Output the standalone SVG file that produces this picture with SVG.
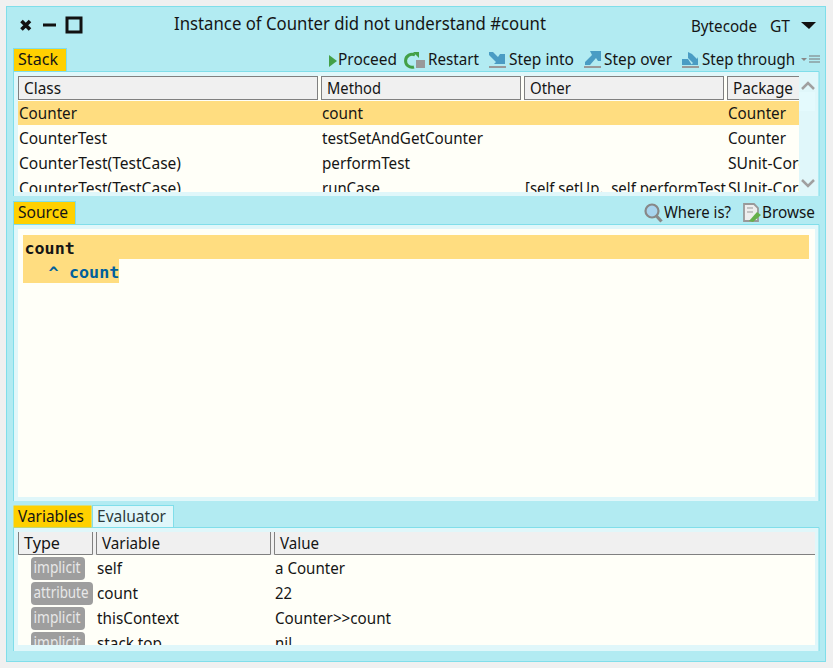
<svg xmlns="http://www.w3.org/2000/svg" width="833" height="668" viewBox="0 0 833 668">
<style>
text{font-family:"Noto Sans","Open Sans","Liberation Sans",sans-serif;font-size:16.500px;fill:#151515}
.hd{fill:#f0f0f0;stroke:#808080;stroke-width:1}
.tab{fill:#ffd000;stroke:#80deea;stroke-width:1}
.ln{stroke:#80deea;stroke-width:1;fill:none}
.pn{fill:#e0f7fa}
.wh{fill:#fffff8}
.sel{fill:#ffdd80}
.pill{fill:#9e9e9e}
.pt{fill:#e8e8e8}
.mono{font-family:"DejaVu Sans Mono",monospace;font-size:16.700px;font-weight:bold}
.blue{fill:#00609c}
.ic{fill:#4a9cc4}
.bar{fill:#999}
</style>
<defs>
<clipPath id="c1"><rect x="18" y="76" width="781" height="116"/></clipPath>
<clipPath id="c2"><rect x="18" y="555" width="797" height="90"/></clipPath>
<clipPath id="c3"><rect x="525" y="176" width="202" height="20"/></clipPath>
</defs>
<rect width="833" height="668" fill="#f0f0f0"/>
<rect id="window" x="6.500" y="6.500" width="819" height="655" fill="#b2ebf2" stroke="#80deea"/>
<g id="titlebar">
<path d="M21.500 21l8.500 8.500m0-8.500l-8.500 8.500" stroke="#111" stroke-width="3.600" fill="none"/>
<rect x="43" y="23.500" width="13" height="3" fill="#111"/>
<rect x="67" y="18" width="14" height="14" fill="none" stroke="#111" stroke-width="3"/>
<text x="174" y="30" textLength="372" lengthAdjust="spacingAndGlyphs" style="font-size:18.500px">Instance of Counter did not understand #count</text>
<text x="691" y="32" textLength="66" lengthAdjust="spacingAndGlyphs">Bytecode</text>
<text x="770" y="32" textLength="20" lengthAdjust="spacingAndGlyphs">GT</text>
<path d="M801 22h15l-7 7z" fill="#111"/>
</g>
<g id="stack">
<rect class="pn" x="14" y="72" width="805" height="124"/>
<path class="ln" d="M13.500 71.500H819M13.500 71.500V196M819 71.500V196"/>
<rect class="tab" x="13.500" y="48.500" width="53" height="23"/>
<text x="18" y="65" textLength="40" lengthAdjust="spacingAndGlyphs">Stack</text>
<path d="M329 55l8 6-8 6z" fill="#43a047"/>
<text x="338" y="65" textLength="59" lengthAdjust="spacingAndGlyphs">Proceed</text>
<path d="M415 55a6.500 6.500 0 1 0-1 12" fill="none" stroke="#43a047" stroke-width="3"/>
<path d="M413 52l6 0 0 6z" fill="#43a047"/>
<rect x="416" y="60" width="9" height="8" fill="#999"/>
<text x="428" y="65" textLength="51" lengthAdjust="spacingAndGlyphs">Restart</text>
<path class="ic" d="M489 52h4l5 5 2-3h5v10h-11l2-2-7-7z"/><rect class="bar" x="489" y="66" width="17" height="2"/>
<text x="509" y="65" textLength="65" lengthAdjust="spacingAndGlyphs">Step into</text>
<path class="ic" d="M590 51h11v10h-3l-2-3-6 7h-5v-3l7-7z"/><rect class="bar" x="584" y="66" width="17" height="2"/>
<text x="604" y="65" textLength="68" lengthAdjust="spacingAndGlyphs">Step over</text>
<path class="ic" d="M688 52l4 2 5 5 1-2v8h-7l2-2-5-5zM682 59h6l4 6h-10z"/><rect class="bar" x="682" y="66" width="17" height="2"/>
<text x="702" y="65" textLength="93" lengthAdjust="spacingAndGlyphs">Step through</text>
<path d="M801 58h6l-3 3z" fill="#888"/>
<path d="M809 56h11M809 59h11M809 62h11" stroke="#777" stroke-width="1.200"/>
<rect class="wh" x="18" y="76" width="781" height="116"/>
<rect class="sel" x="18" y="101" width="781" height="24"/>
<rect x="799" y="76" width="16" height="116" fill="#e0f7fa"/>
<rect x="799" y="92" width="16" height="19" fill="#e4fafd"/>
<path d="M802 89l6-6 6 6" fill="none" stroke="#a0a0a0" stroke-width="2.500"/>
<path d="M802 180l6 6 6-6" fill="none" stroke="#a0a0a0" stroke-width="2.500"/>
<g clip-path="url(#c1)">
<rect class="hd" x="18.500" y="76.500" width="299" height="23"/>
<rect class="hd" x="321.500" y="76.500" width="199" height="23"/>
<rect class="hd" x="524.500" y="76.500" width="199" height="23"/>
<rect class="hd" x="727.500" y="76.500" width="90" height="23"/>
<text x="24" y="94" textLength="37" lengthAdjust="spacingAndGlyphs">Class</text>
<text x="327" y="94" textLength="54" lengthAdjust="spacingAndGlyphs">Method</text>
<text x="530" y="94" textLength="41" lengthAdjust="spacingAndGlyphs">Other</text>
<text x="733" y="94" textLength="60" lengthAdjust="spacingAndGlyphs">Package</text>
<text x="19" y="119" textLength="58" lengthAdjust="spacingAndGlyphs">Counter</text>
<text x="322" y="119" textLength="41" lengthAdjust="spacingAndGlyphs">count</text>
<text x="728" y="119" textLength="58" lengthAdjust="spacingAndGlyphs">Counter</text>
<text x="19" y="144" textLength="88" lengthAdjust="spacingAndGlyphs">CounterTest</text>
<text x="322" y="144" textLength="161" lengthAdjust="spacingAndGlyphs">testSetAndGetCounter</text>
<text x="728" y="144" textLength="58" lengthAdjust="spacingAndGlyphs">Counter</text>
<text x="19" y="169" textLength="162" lengthAdjust="spacingAndGlyphs">CounterTest(TestCase)</text>
<text x="322" y="169" textLength="88" lengthAdjust="spacingAndGlyphs">performTest</text>
<text x="728" y="169" textLength="79" lengthAdjust="spacingAndGlyphs">SUnit-Core</text>
<text x="19" y="194" textLength="162" lengthAdjust="spacingAndGlyphs">CounterTest(TestCase)</text>
<text x="322" y="194" textLength="58" lengthAdjust="spacingAndGlyphs">runCase</text>
<g clip-path="url(#c3)"><text x="525" y="194" textLength="201" lengthAdjust="spacingAndGlyphs" xml:space="preserve">[self setUp.  self performTest</text></g>
<text x="728" y="194" textLength="79" lengthAdjust="spacingAndGlyphs">SUnit-Core</text>
</g>
</g>
<g id="source">
<rect class="pn" x="14" y="225" width="805" height="276"/>
<path class="ln" d="M13.500 224.500H819M13.500 224.500V501M819 224.500V501"/>
<rect class="tab" x="13.500" y="201.500" width="62" height="23"/>
<text x="18" y="218" textLength="50" lengthAdjust="spacingAndGlyphs">Source</text>
<circle cx="652" cy="211" r="6.500" fill="#a8d4ee" stroke="#888" stroke-width="2.200"/>
<path d="M656.500 216l5 5.500" stroke="#888" stroke-width="3.200"/>
<text x="664" y="218" textLength="67" lengthAdjust="spacingAndGlyphs">Where is?</text>
<path d="M744 204h10l4 4v13h-14z" fill="#eee" stroke="#999" stroke-width="1.800"/>
<path d="M747 208h6M747 212h6" stroke="#999"/>
<path d="M749 221l8-9 4 3-8 7z" fill="#66b04a"/>
<text x="762" y="218" textLength="53" lengthAdjust="spacingAndGlyphs">Browse</text>
<rect class="wh" x="18" y="229" width="797" height="268"/>
<rect class="sel" x="23" y="235" width="786" height="24"/>
<rect class="sel" x="23" y="259" width="96" height="24"/>
<text class="mono" x="24.500" y="253.500">count</text>
<text class="mono blue" x="48.500" y="277.500">^</text>
<text class="mono blue" x="69" y="277.500">count</text>
</g>
<g id="variables">
<rect class="pn" x="14" y="528" width="805" height="123"/>
<path class="ln" d="M13.500 527.500H819M13.500 527.500V651M819 527.500V651"/>
<rect class="pn" x="92.500" y="505.500" width="81" height="22" stroke="#80deea"/>
<rect class="tab" x="13.500" y="505.500" width="78" height="22" style="stroke:none"/>
<text x="18" y="522" textLength="66" lengthAdjust="spacingAndGlyphs">Variables</text>
<text x="97" y="522" textLength="69" lengthAdjust="spacingAndGlyphs" style="fill:#2d3a3c">Evaluator</text>
<rect x="18" y="532" width="797" height="23" fill="#f0f0f0"/>
<rect class="wh" x="18" y="555" width="797" height="90"/>
<path d="M18.500 532v22.500H92.500V532M96.500 532v22.500H270.500V532M274.500 532v22.500H815" fill="none" stroke="#808080"/>
<text x="24" y="549" textLength="36" lengthAdjust="spacingAndGlyphs">Type</text>
<text x="102" y="549" textLength="58" lengthAdjust="spacingAndGlyphs">Variable</text>
<text x="280" y="549" textLength="39" lengthAdjust="spacingAndGlyphs">Value</text>
<g clip-path="url(#c2)">
<rect class="pill" x="31" y="557" width="54" height="23" rx="4"/>
<rect class="pill" x="31" y="582" width="62" height="23" rx="4"/>
<rect class="pill" x="31" y="607" width="54" height="23" rx="4"/>
<rect class="pill" x="31" y="632" width="54" height="23" rx="4"/>
<text class="pt" x="33.500" y="573" textLength="47" lengthAdjust="spacingAndGlyphs">implicit</text>
<text class="pt" x="33.500" y="598" textLength="55" lengthAdjust="spacingAndGlyphs">attribute</text>
<text class="pt" x="33.500" y="623" textLength="47" lengthAdjust="spacingAndGlyphs">implicit</text>
<text class="pt" x="33.500" y="648" textLength="47" lengthAdjust="spacingAndGlyphs">implicit</text>
<text x="97" y="574" textLength="25" lengthAdjust="spacingAndGlyphs">self</text>
<text x="97" y="599" textLength="41" lengthAdjust="spacingAndGlyphs">count</text>
<text x="97" y="624" textLength="82" lengthAdjust="spacingAndGlyphs">thisContext</text>
<text x="97" y="649" textLength="65" lengthAdjust="spacingAndGlyphs">stack top</text>
<text x="275" y="574" textLength="70" lengthAdjust="spacingAndGlyphs">a Counter</text>
<text x="275" y="599" textLength="17" lengthAdjust="spacingAndGlyphs">22</text>
<text x="275" y="624" textLength="116" lengthAdjust="spacingAndGlyphs">Counter&gt;&gt;count</text>
<text x="275" y="649" textLength="17" lengthAdjust="spacingAndGlyphs">nil</text>
</g>
</g>
</svg>
